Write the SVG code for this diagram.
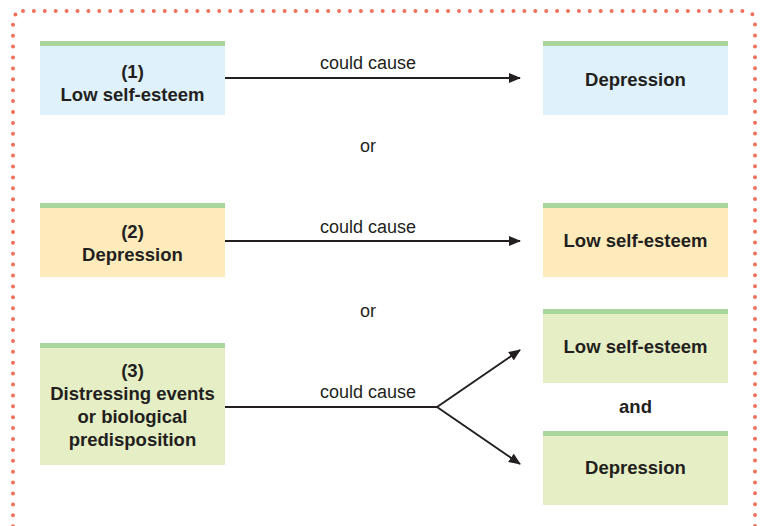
<svg xmlns="http://www.w3.org/2000/svg" width="760" height="526" viewBox="0 0 760 526">
<defs>
<marker id="ah" viewBox="0 0 12 10" refX="11" refY="5" markerWidth="12" markerHeight="10" markerUnits="userSpaceOnUse" orient="auto">
<path d="M0,0 L12,5 L0,10 Z" fill="#231f20"/>
</marker>
</defs>
<style>
.border{fill:none;stroke:#f0705a;stroke-width:4;stroke-linecap:round;stroke-dasharray:0 10.9}
.blue{fill:#dff1fb}
.yellow{fill:#feebbb}
.green{fill:#e5eec4}
.band{fill:#a9d69b}
.t{font-family:"Liberation Sans",Arial,sans-serif;font-size:18.5px;font-weight:bold;fill:#231f20;text-anchor:middle}
.l{font-family:"Liberation Sans",Arial,sans-serif;font-size:18px;fill:#231f20;text-anchor:middle}
.c{fill:none;stroke:#231f20;stroke-width:2}
</style>
<rect class="border" x="13" y="11" width="742" height="530" rx="10"/>
<g id="n1">
<rect class="blue" x="40" y="41" width="185" height="74"/>
<rect class="band" x="40" y="41" width="185" height="5"/>
<text class="t" x="132.5" y="78">(1)</text>
<text class="t" x="132.5" y="101">Low self-esteem</text>
</g>
<g id="n1r">
<rect class="blue" x="543" y="41" width="185" height="74"/>
<rect class="band" x="543" y="41" width="185" height="5"/>
<text class="t" x="635.5" y="86">Depression</text>
</g>
<g id="n2">
<rect class="yellow" x="40" y="203" width="185" height="74"/>
<rect class="band" x="40" y="203" width="185" height="5"/>
<text class="t" x="132.5" y="238">(2)</text>
<text class="t" x="132.5" y="261">Depression</text>
</g>
<g id="n2r">
<rect class="yellow" x="543" y="203" width="185" height="74"/>
<rect class="band" x="543" y="203" width="185" height="5"/>
<text class="t" x="635.5" y="247">Low self-esteem</text>
</g>
<g id="n3">
<rect class="green" x="40" y="343" width="185" height="122"/>
<rect class="band" x="40" y="343" width="185" height="5"/>
<text class="t" x="132.5" y="377">(3)</text>
<text class="t" x="132.5" y="400">Distressing events</text>
<text class="t" x="132.5" y="423">or biological</text>
<text class="t" x="132.5" y="446">predisposition</text>
</g>
<g id="n3a">
<rect class="green" x="543" y="309" width="185" height="74"/>
<rect class="band" x="543" y="309" width="185" height="5"/>
<text class="t" x="635.5" y="353">Low self-esteem</text>
</g>
<g id="n3b">
<rect class="green" x="543" y="431" width="185" height="74"/>
<rect class="band" x="543" y="431" width="185" height="5"/>
<text class="t" x="635.5" y="474">Depression</text>
</g>
<g id="labels">
<text class="l" x="368" y="152">or</text>
<text class="l" x="368" y="317">or</text>
<text class="t" x="635.5" y="413">and</text>
</g>
<g id="connectors">
<line class="c" x1="225" y1="78" x2="520" y2="78" marker-end="url(#ah)"/>
<line class="c" x1="225" y1="241" x2="520" y2="241" marker-end="url(#ah)"/>
<polyline class="c" points="225,407 437,407"/>
<line class="c" x1="437" y1="407" x2="520" y2="350" marker-end="url(#ah)"/>
<line class="c" x1="437" y1="407" x2="520" y2="464" marker-end="url(#ah)"/>
<text class="l" x="368" y="69">could cause</text>
<text class="l" x="368" y="233">could cause</text>
<text class="l" x="368" y="398">could cause</text>
</g>
</svg>
